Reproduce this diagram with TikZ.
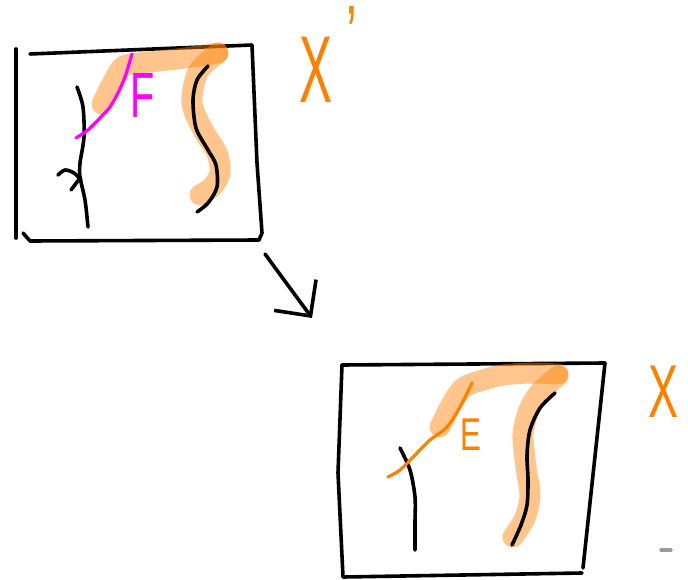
\documentclass[tikz,border=0pt]{standalone}
\usepackage{fontspec}
\setsansfont{Liberation Sans}
\usepackage{xcolor}
\usepackage{tikz}
\usetikzlibrary{arrows.meta}
\definecolor{marker}{HTML}{FF7F00}
\definecolor{hotpink}{HTML}{FF00FF}
\definecolor{smudge}{HTML}{9A9A9A}

\begin{document}
\begin{tikzpicture}[
  x=1pt, y=-1pt,
  pen/.style={draw=black, line width=3.6pt, line cap=round, line join=round},
  thinpen/.style={line width=3.2pt, line cap=round, line join=round},
  hl/.style={draw=marker, opacity=0.45, line width=21pt,
             line cap=round, line join=round},
  tag/.style={font=\sffamily, inner sep=0pt, anchor=base west},
  arr/.style={-{Straight Barb[length=26pt, width=52pt]}, line width=3.6pt,
              line cap=round, line join=round}
]
\useasboundingbox (0,0) rectangle (688,580);
% Upper sketch X'
\draw[pen] (16,49) -- (16,238);
\draw[pen] (30,54) -- (252,45) -- (257,163) -- (262,233) -- (259,240)
  -- (30,241) -- (23,233);
\draw[hl] plot[smooth] coordinates {(102,104) (112,84) (124,66) (150,62)
  (185,58) (218,53)};
\draw[hl] plot[smooth] coordinates {(218,53) (198,72) (192,103) (203,130)
  (217,153) (220,173) (212,187) (200,195)};
\draw[pen] plot[smooth] coordinates {(208,66) (197,80) (193,100) (196,128)
  (208,150) (216,165) (217,187) (208,203) (197,212)};
\draw[pen] plot[smooth] coordinates {(77,87) (83,107) (84,137) (80,163)
  (80,177) (85,200) (88,227)};
\draw[pen] plot[smooth] coordinates {(58,175) (65,170) (74,173) (81,180)};
\draw[pen] (80,178) -- (71,190);
\draw[thinpen, draw=hotpink] plot[smooth] coordinates {(76,138) (88,130)
  (100,118) (110,107) (118,93) (125,77) (132,54)};
\node[tag, text=hotpink, font=\sffamily\fontsize{64}{64}\selectfont,
  xscale=0.62] (lblF) at (130,118) {F};
\node[tag, text=marker, font=\sffamily\fontsize{95}{95}\selectfont,
  xscale=0.52] (lblXp) at (299,103) {X};
\node[tag, anchor=north west, text=marker,
  font=\sffamily\fontsize{80}{80}\selectfont, xscale=0.6]
  (lblprime) at (346,6) {'};
% Arrow between the two sketches
\coordinate (arrtail) at (265,254);
\coordinate (arrtip) at (312,318);
\draw[arr] (arrtail) -- (arrtip);
% Lower sketch X
\draw[pen] (342,365) -- (605,363) -- (583,568);
\draw[pen] (342,365) -- (338,473) -- (343,577) -- (582,573);
\draw[hl] plot[smooth] coordinates {(440,427) (450,407) (463,388) (483,380)
  (503,375) (530,373) (558,374)};
\draw[hl] plot[smooth] coordinates {(558,376) (540,392) (529,410) (523,435)
  (526,467) (530,495) (525,518) (513,537)};
\draw[pen] plot[smooth] coordinates {(555,393) (540,408) (530,430) (527,455)
  (528,480) (527,505) (521,525) (512,545)};
\draw[pen] plot[smooth] coordinates {(400,448) (410,470) (415,497)
  (415,523) (415,550)};
\draw[thinpen, draw=marker] plot[smooth] coordinates {(388,477) (400,470)
  (417,453) (430,440) (447,427) (460,407) (472,383)};
\node[tag, text=marker, font=\sffamily\fontsize{46}{46}\selectfont,
  xscale=0.68] (lblE) at (460,450) {E};
\node[tag, text=marker, font=\sffamily\fontsize{75}{75}\selectfont,
  xscale=0.6] (lblX) at (648,417) {X};
% stray mark
\draw[thinpen, draw=smudge] (661,550) -- (671,550);
\end{tikzpicture}
\end{document}
